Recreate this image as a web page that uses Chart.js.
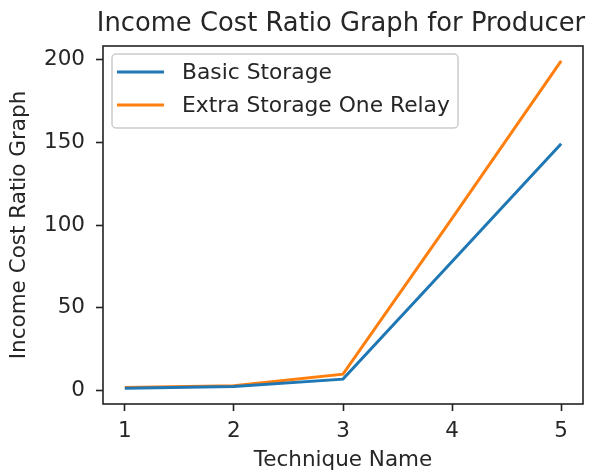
<!DOCTYPE html>
<html>
<head>
<meta charset="utf-8">
<script src="https://cdn.jsdelivr.net/npm/chart.js@4.4.0/dist/chart.umd.min.js"></script>
<style>
  html, body { margin: 0; padding: 0; background: #fff; }
  #wrap { width: 592px; height: 475px; }
</style>
</head>
<body>
<div id="wrap"><canvas id="chart" width="592" height="475"></canvas></div>
<script>
// --- Data ---
const techniques = [1, 2, 3, 4, 5];
const basicStorage = [1.5, 2.5, 7, 78, 149];
const extraStorageOneRelay = [2, 3, 10, 104, 199];
const xTicks = [1, 2, 3, 4, 5];
const yTicks = [0, 50, 100, 150, 200];

const FONT = "'DejaVu Sans', sans-serif";
const TEXT = '#262626';

// frame round the plot area (matplotlib style box)
const framePlugin = {
    id: 'frame',
    afterDatasetsDraw(chart) {
        const { ctx, chartArea: a } = chart;
        ctx.save();
        ctx.strokeStyle = '#222';
        ctx.lineWidth = 1.6;
        ctx.strokeRect(a.left, a.top, a.right - a.left, a.bottom - a.top);
        ctx.restore();
    }
};

// title above the plot
const titlePlugin = {
    id: 'topTitle',
    afterDraw(chart) {
        const { ctx, chartArea: a } = chart;
        ctx.save();
        ctx.fillStyle = TEXT;
        ctx.font = '25.8px ' + FONT;
        ctx.textAlign = 'center';
        ctx.textBaseline = 'alphabetic';
        ctx.fillText('Income Cost Ratio Graph for Producer', (a.left + a.right) / 2 - 2, 31);
        ctx.restore();
    }
};

// legend drawn inside the plot, upper left
const legendPlugin = {
    id: 'innerLegend',
    afterDraw(chart) {
        const { ctx } = chart;
        const x = 112, y = 54, w = 346, h = 74;
        ctx.save();
        ctx.fillStyle = 'rgba(255,255,255,0.8)';
        ctx.strokeStyle = '#cccccc';
        ctx.lineWidth = 1.5;
        ctx.beginPath();
        ctx.roundRect(x, y, w, h, 4);
        ctx.fill();
        ctx.stroke();
        ctx.font = '21.8px ' + FONT;
        ctx.textBaseline = 'middle';
        ctx.textAlign = 'left';
        chart.data.datasets.forEach((ds, i) => {
            const rowY = 72 + i * 33;
            ctx.strokeStyle = ds.borderColor;
            ctx.lineWidth = 3;
            ctx.beginPath();
            ctx.moveTo(117, rowY);
            ctx.lineTo(164, rowY);
            ctx.stroke();
            ctx.fillStyle = TEXT;
            ctx.fillText(ds.label, 182, rowY + 1);
        });
        ctx.restore();
    }
};

new Chart(document.getElementById('chart'), {
    type: 'line',
    data: {
        datasets: [
            {
                label: 'Basic Storage',
                data: techniques.map((t, i) => ({ x: t, y: basicStorage[i] })),
                borderColor: '#1f77b4',
                borderWidth: 3,
                pointRadius: 0,
                tension: 0,
                fill: false
            },
            {
                label: 'Extra Storage One Relay',
                data: techniques.map((t, i) => ({ x: t, y: extraStorageOneRelay[i] })),
                borderColor: '#ff7f0e',
                borderWidth: 3,
                pointRadius: 0,
                tension: 0,
                fill: false
            }
        ]
    },
    options: {
        responsive: false,
        animation: false,
        layout: { padding: { top: 46, right: 9, left: 0, bottom: 0 } },
        plugins: {
            legend: { display: false },
            title: { display: false },
            tooltip: { enabled: false }
        },
        scales: {
            x: {
                type: 'linear',
                min: 0.8,
                max: 5.2,
                afterBuildTicks: scale => { scale.ticks = xTicks.map(v => ({ value: v })); },
                afterFit: scale => { scale.height = 71; },
                grid: { drawOnChartArea: false, drawTicks: true, tickLength: 7, tickColor: '#222', tickWidth: 1.6 },
                border: { display: false },
                ticks: { color: TEXT, font: { family: FONT, size: 21.5 }, padding: 8, maxRotation: 0 },
                title: { display: true, text: 'Technique Name', color: TEXT, font: { family: FONT, size: 21.5 }, padding: { top: 0, bottom: 2 } }
            },
            y: {
                min: -8,
                max: 208,
                afterBuildTicks: scale => { scale.ticks = yTicks.map(v => ({ value: v })); },
                afterFit: scale => { scale.width = 103; },
                grid: { drawOnChartArea: false, drawTicks: true, tickLength: 7, tickColor: '#222', tickWidth: 1.6 },
                border: { display: false },
                ticks: { color: TEXT, font: { family: FONT, size: 21.5 }, padding: 11 },
                title: { display: true, text: 'Income Cost Ratio Graph', color: TEXT, font: { family: FONT, size: 21.5 }, padding: { top: 7, bottom: 0 } }
            }
        }
    },
    plugins: [framePlugin, titlePlugin, legendPlugin]
});
</script>
</body>
</html>
